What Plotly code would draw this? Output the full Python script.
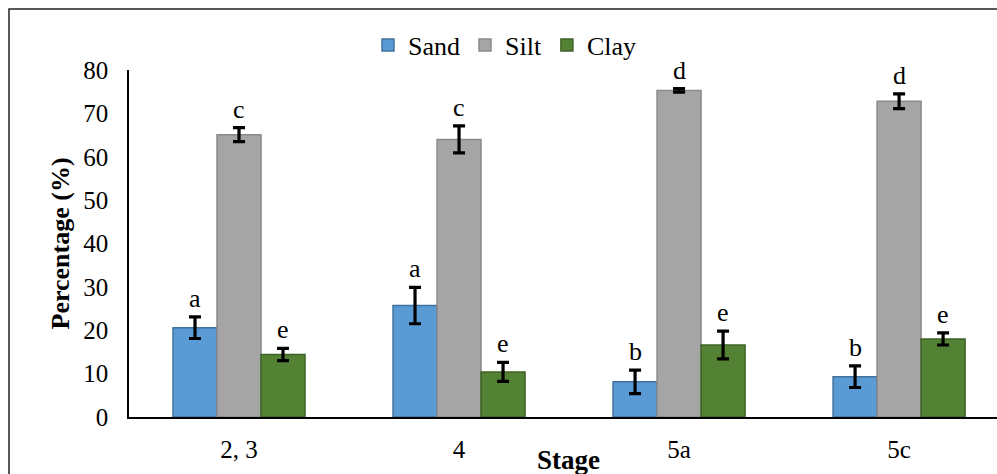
import plotly.graph_objects as go

stages = ["2, 3", "4", "5a", "5c"]
sand = [20.6, 25.7, 8.1, 9.3]
sand_err = [2.5, 4.2, 2.7, 2.5]
silt = [65.1, 64.0, 75.3, 72.8]
silt_err = [1.6, 3.1, 0.4, 1.7]
clay = [14.4, 10.4, 16.6, 18.0]
clay_err = [1.4, 2.2, 3.2, 1.4]
sand_letters = ["a", "a", "b", "b"]
silt_letters = ["c", "c", "d", "d"]
clay_letters = ["e", "e", "e", "e"]
y_ticks = [0, 10, 20, 30, 40, 50, 60, 70, 80]

FONT = "Liberation Serif"

series = [
    ("Sand", sand, sand_err, sand_letters, "#5B9BD5", "#41719C"),
    ("Silt", silt, silt_err, silt_letters, "#A5A5A5", "#8A8A8A"),
    ("Clay", clay, clay_err, clay_letters, "#548235", "#3E6327"),
]

fig = go.Figure()
for name, vals, errs, _, col, lcol in series:
    fig.add_trace(go.Bar(
        name=name, x=stages, y=vals,
        marker=dict(color=col, line=dict(color=lcol, width=1.5)),
        error_y=dict(type="data", array=errs, visible=True,
                     color="black", thickness=3.2, width=6),
    ))

annotations = []
offsets = [-44, 0, 44]
for (name, vals, errs, letters, _, _), dx in zip(series, offsets):
    for i, (v, e, lt) in enumerate(zip(vals, errs, letters)):
        annotations.append(dict(
            x=i, y=v + e, xref="x", yref="y", text=lt, showarrow=False,
            xshift=dx, yshift=2, yanchor="bottom", xanchor="center",
            font=dict(family=FONT, size=26, color="black"),
        ))

annotations.append(dict(
    x=(568 - 129) / 868, y=(417 - 460) / 347, xref="paper", yref="paper",
    text="<b>Stage</b>", showarrow=False, xanchor="center", yanchor="middle",
    font=dict(family=FONT, size=27, color="black"),
))
annotations.append(dict(
    x=(60 - 129) / 868, y=0.5, xref="paper", yref="paper",
    text="<b>Percentage (%)</b>", showarrow=False, textangle=-90,
    xanchor="center", yanchor="middle",
    font=dict(family=FONT, size=26, color="black"),
))

fig.update_layout(
    template="none",
    width=997, height=474,
    margin=dict(l=129, r=0, t=70, b=57),
    paper_bgcolor="white", plot_bgcolor="white",
    barmode="group", bargap=0.4, bargroupgap=0,
    font=dict(family=FONT, size=25, color="black"),
    legend=dict(orientation="h", x=(505 - 129) / 868, y=(417 - 45) / 347,
                xanchor="center", yanchor="middle",
                font=dict(family=FONT, size=26, color="black"),
                itemwidth=30, traceorder="normal"),
    annotations=annotations,
    shapes=[dict(type="rect", xref="paper", yref="paper",
                 x0=(9 - 129) / 868, x1=1.2, y0=-0.5, y1=(417 - 9) / 347,
                 line=dict(color="#222", width=1.5), fillcolor="rgba(0,0,0,0)")],
    showlegend=True,
    xaxis=dict(
        type="category",
        range=[-0.5, 3.445], showline=True, linecolor="black", linewidth=2,
        showgrid=False, ticks="", ticklabelstandoff=9,
        tickfont=dict(family=FONT, size=25, color="black"),
    ),
    yaxis=dict(
        range=[0, 80], tickvals=y_ticks, showline=True, linecolor="black",
        linewidth=1.5, showgrid=False, ticks="", ticklabelstandoff=14,
        zeroline=False, tickfont=dict(family=FONT, size=25, color="black"),
    ),
)

fig.write_html("out.html")
